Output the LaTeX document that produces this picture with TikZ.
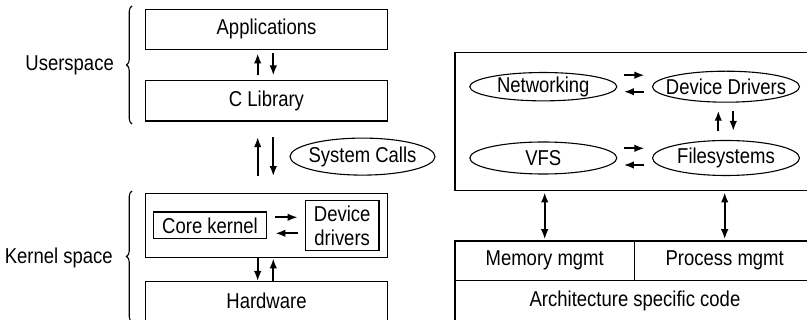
\documentclass[tikz,border=0pt]{standalone}
\usepackage{fontspec}
\setmainfont{Liberation Sans}[FakeStretch=0.86]
\usetikzlibrary{shapes.geometric,arrows.meta,decorations.pathreplacing}

\begin{document}
\begin{tikzpicture}[x=1pt,y=-1pt,font=\fontsize{21.5}{24}\selectfont,
        box/.style={draw,line width=1.4pt,inner sep=0pt,align=center},
        oval/.style={ellipse,draw,line width=1.1pt,inner sep=0pt,minimum width=147pt},
        arr/.style={-{Latex[length=10pt,width=7.5pt]},line width=1.8pt},
        dbl/.style={{Latex[length=10pt,width=7.5pt]}-{Latex[length=10pt,width=7.5pt]},line width=1.8pt},
        brc/.style={decorate,decoration={brace,amplitude=5.5pt},line width=1.1pt}]
        \useasboundingbox(0,0)rectangle(807,320);
        \clip(0,0)rectangle(807,320);

        \node[box,minimum width=241.6pt,minimum height=40pt](app)at(266.5,29.3){Applications};
        \node[box,minimum width=241.6pt,minimum height=40.3pt](clib)at(266.5,100.8){C Library};
        \node[box,minimum width=241.6pt,minimum height=64.4pt](kern)at(266.5,225.5){};
        \node[box,minimum width=113.4pt,minimum height=26.6pt](core)at(210,225.5){Core kernel};
        \node[box,minimum width=73.7pt,minimum height=50pt](kdrv)at(342.2,225.5){Device\\drivers};
        \node[box,minimum width=241.6pt,minimum height=39pt](hw)at(266.5,301.2){Hardware};
        \node[oval,minimum width=145pt,minimum height=37pt](sys)at(362.5,156.6){\makebox[0pt]{System Calls}};

        \draw[brc](132,124)--(132,6);
        \node[anchor=base east,inner sep=0pt](user)at(114,71){Userspace};
        \draw[brc](132,322)--(132,191);
        \node[anchor=base east,inner sep=0pt](kspace)at(113,263.3){Kernel space};

        \draw[arr,shorten <=4.5pt,shorten >=3.5pt]([xshift=-8.8pt]clib.north)--([xshift=-8.8pt]app.south);
        \draw[arr,shorten <=3.5pt,shorten >=4.5pt]([xshift=6.8pt]app.south)--([xshift=6.8pt]clib.north);
        \draw[arr,shorten <=16.5pt,shorten >=15.5pt]([xshift=-8.8pt]kern.north)--([xshift=-8.8pt]clib.south);
        \draw[arr,shorten <=15.5pt,shorten >=16.5pt]([xshift=6.8pt]clib.south)--([xshift=6.8pt]kern.north);
        \draw[arr]([xshift=-8.8pt]kern.south)--([xshift=-8.8pt]hw.north);
        \draw[arr]([xshift=6.8pt]hw.north)--([xshift=6.8pt]kern.south);
        \draw[arr,shorten <=8pt,shorten >=7pt]([yshift=8.2pt]core.east)--([yshift=8.2pt]kdrv.west);
        \draw[arr,shorten <=7pt,shorten >=8pt]([yshift=-7.8pt]kdrv.west)--([yshift=-7.8pt]core.east);

        \node[box,minimum width=360pt,minimum height=138pt](krn)at(635,121.7){};
        \node[oval,minimum height=27pt](net)at(543.3,86.7){\makebox[0pt]{Networking}};
        \node[oval,minimum height=31pt](drv)at(726,86.7){\makebox[0pt]{Device Drivers}};
        \node[oval,minimum height=32pt](vfs)at(543.3,158){\makebox[0pt]{VFS}};
        \node[oval,minimum height=35pt](fs)at(726,158){\makebox[0pt]{Filesystems}};

        \draw[arr,shorten <=6.5pt,shorten >=7.5pt]([yshift=11.5pt]net.east)--([yshift=11.5pt]drv.west);
        \draw[arr,shorten <=7.5pt,shorten >=6.5pt]([yshift=-5pt]drv.west)--([yshift=-5pt]net.east);
        \draw[arr,shorten <=6.5pt,shorten >=7.5pt]([yshift=9.7pt]vfs.east)--([yshift=9.7pt]fs.west);
        \draw[arr,shorten <=7.5pt,shorten >=6.5pt]([yshift=-7pt]fs.west)--([yshift=-7pt]vfs.east);
        \draw[arr,shorten <=9pt,shorten >=8pt]([xshift=-7.7pt]fs.north)--([xshift=-7.7pt]drv.south);
        \draw[arr,shorten <=8pt,shorten >=9pt]([xshift=7.3pt]drv.south)--([xshift=7.3pt]fs.north);

        \node[box,minimum width=179.3pt,minimum height=39.7pt](mem)at(544.7,260.8){Memory mgmt};
        \node[box,minimum width=180.7pt,minimum height=39.7pt](proc)at(724.7,260.8){Process mgmt};
        \node[box,minimum width=360pt,minimum height=40pt](arch)at(635,300.7){Architecture specific code};

        \draw[dbl,shorten <=1pt,shorten >=1pt](mem.north)--(mem.north|-krn.south);
        \draw[dbl,shorten <=1pt,shorten >=1pt](proc.north)--(proc.north|-krn.south);
    \end{tikzpicture}
\end{document}
